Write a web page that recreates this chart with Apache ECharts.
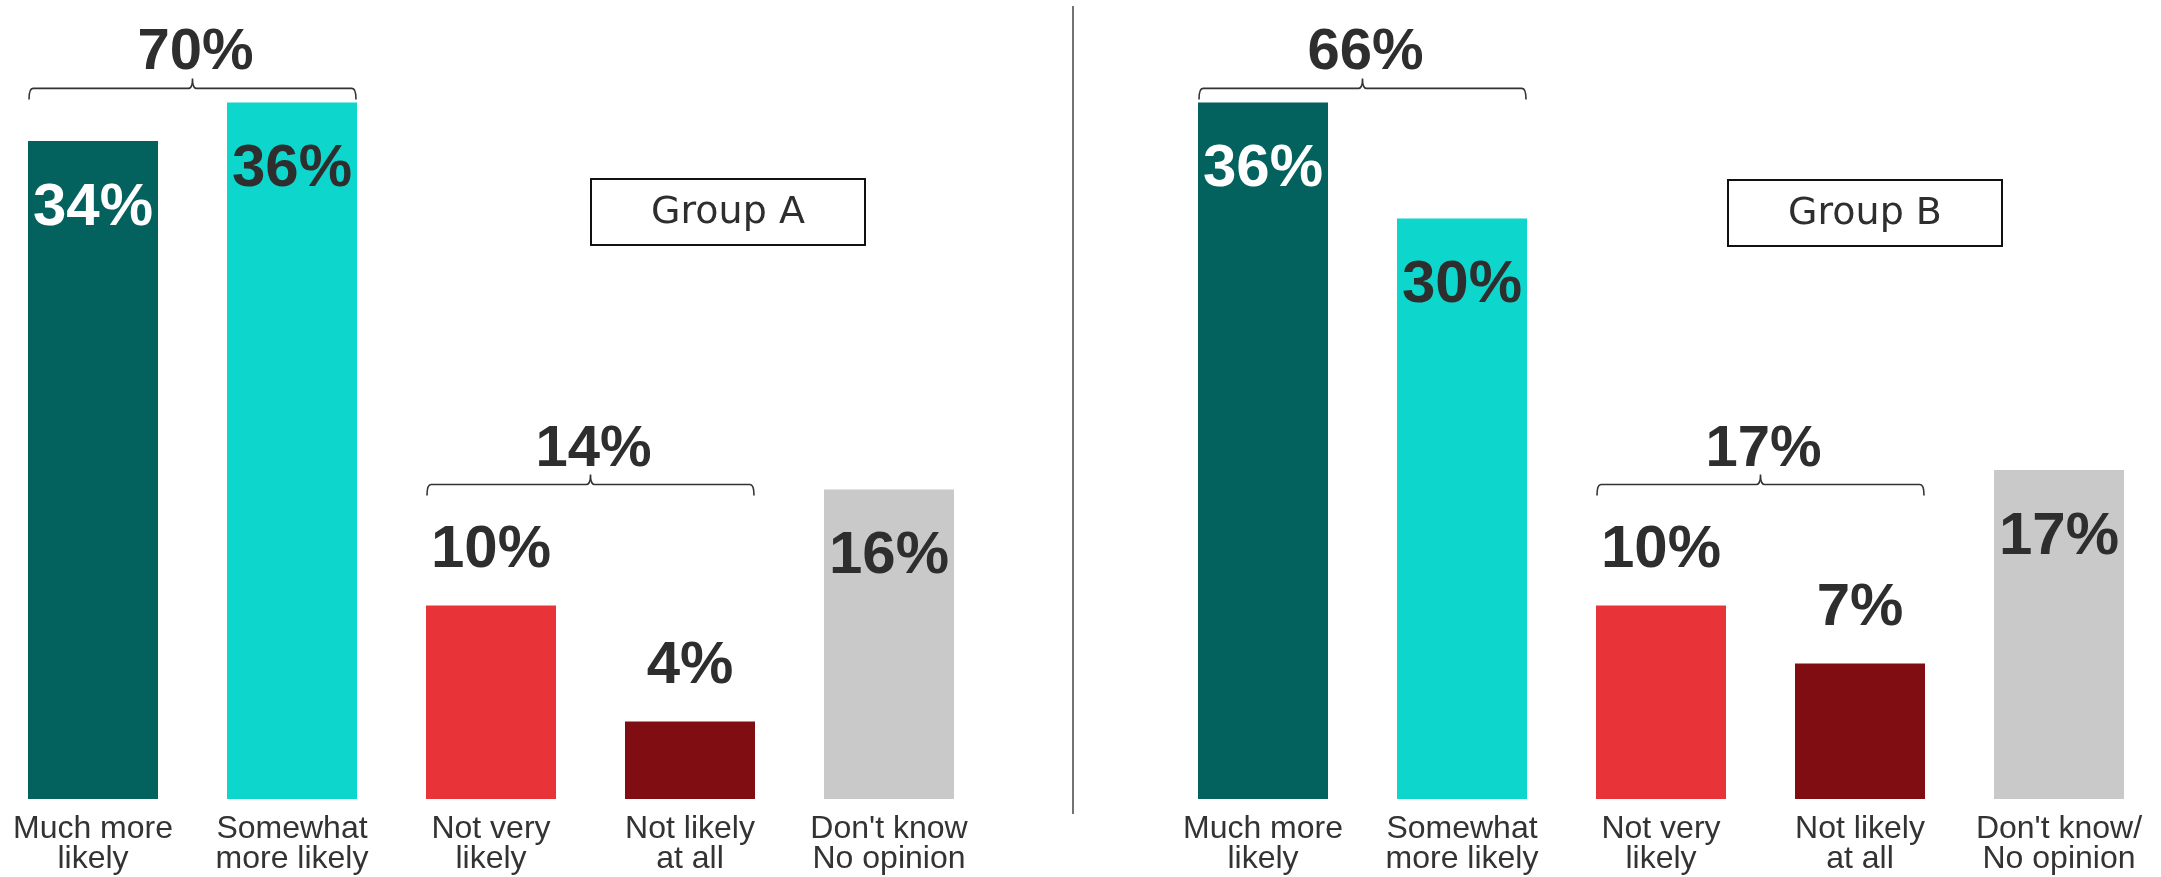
<!DOCTYPE html>
<html>
<head>
<meta charset="utf-8">
<script src="https://cdn.jsdelivr.net/npm/echarts@6/dist/echarts.min.js"></script>
<style>
  html, body { margin: 0; padding: 0; background: #ffffff; }
  #chart { width: 2161px; height: 877px; }
</style>
</head>
<body>
<div id="chart"></div>
<script>
// ---------- data ----------
const categoriesA = ['Much more\nlikely', 'Somewhat\nmore likely', 'Not very\nlikely', 'Not likely\nat all', "Don't know\nNo opinion"];
const categoriesB = ['Much more\nlikely', 'Somewhat\nmore likely', 'Not very\nlikely', 'Not likely\nat all', "Don't know/\nNo opinion"];
const valuesA = [34, 36, 10, 4, 16];
const valuesB = [36, 30, 10, 7, 17];
// brackets: [first category index, last category index, combined total]
const bracketsA = [[0, 1, 70], [2, 3, 14]];
const bracketsB = [[0, 1, 66], [2, 3, 17]];
const groupTitles = ['Group A', 'Group B'];

// ---------- style ----------
const FONT = '"Liberation Sans", Arial, Helvetica, sans-serif';
const TEXT = '#2e2e2e';
const barColors = ['#03615e', '#0dd6cc', '#e83338', '#800d12', '#c9c9c9'];
const labelColors = ['#ffffff', TEXT, TEXT, TEXT, TEXT];
const labelOutside = [false, false, true, true, false];
const BAR_W = 130;

function barSeries(values, idx) {
  return {
    type: 'bar',
    xAxisIndex: idx,
    yAxisIndex: idx,
    barWidth: BAR_W,
    clip: false,
    silent: true,
    data: values.map((v, i) => ({
      value: v,
      itemStyle: { color: barColors[i] },
      label: {
        show: true,
        position: labelOutside[i] ? 'top' : 'insideTop',
        distance: labelOutside[i] ? 25 : 37,
        formatter: '{c}%',
        color: labelColors[i],
        fontSize: 60,
        fontWeight: 'bold',
        fontFamily: FONT
      }
    }))
  };
}

function bracketSeries(brackets, values, idx) {
  return {
    type: 'custom',
    xAxisIndex: idx,
    yAxisIndex: idx,
    clip: false,
    silent: true,
    encode: { x: 0, y: 1 },
    data: brackets,
    renderItem: function (params, api) {
      const from = api.value(0), to = api.value(1), total = api.value(2);
      let maxV = 0, outside = false;
      for (let i = from; i <= to; i++) {
        if (values[i] > maxV) maxV = values[i];
        if (labelOutside[i]) outside = true;
      }
      const left = api.coord([from, 0])[0] - BAR_W / 2 + 1;
      const right = api.coord([to, 0])[0] + BAR_W / 2 - 1;
      const cx = (left + right) / 2;
      const topY = api.coord([from, maxV])[1];
      const y0 = topY - (outside ? 121 : 14);
      const r = 4;
      const path = 'M' + left + ' ' + (y0 + 11) +
        ' Q' + left + ' ' + y0 + ' ' + (left + r) + ' ' + y0 +
        ' L' + (cx - r) + ' ' + y0 +
        ' Q' + cx + ' ' + y0 + ' ' + cx + ' ' + (y0 - 10) +
        ' Q' + cx + ' ' + y0 + ' ' + (cx + r) + ' ' + y0 +
        ' L' + (right - r) + ' ' + y0 +
        ' Q' + right + ' ' + y0 + ' ' + right + ' ' + (y0 + 11);
      return {
        type: 'group',
        children: [
          {
            type: 'path',
            shape: { pathData: path },
            style: { fill: null, stroke: '#333333', lineWidth: 1.6 }
          },
          {
            type: 'text',
            style: {
              text: total + '%',
              x: cx + 3,
              y: y0 - 35,
              align: 'center',
              verticalAlign: 'middle',
              fontSize: 58,
              fontWeight: 'bold',
              fontFamily: FONT,
              fill: TEXT
            }
          }
        ]
      };
    }
  };
}

function xAxisFor(cats, idx) {
  return {
    type: 'category',
    gridIndex: idx,
    data: cats,
    boundaryGap: false,
    axisLine: { show: false },
    axisTick: { show: false },
    axisLabel: {
      interval: 0,
      margin: 15,
      fontSize: 32,
      lineHeight: 30,
      color: '#333333',
      fontFamily: FONT
    }
  };
}

function yAxisFor(idx) {
  return {
    type: 'value',
    gridIndex: idx,
    min: 0,
    max: 40,
    show: false,
    splitLine: { show: false }
  };
}

const chart = echarts.init(document.getElementById('chart'), null, { renderer: 'canvas' });
chart.setOption({
  backgroundColor: '#ffffff',
  animation: false,
  grid: [
    { left: 93, top: 25, width: 796, height: 774, containLabel: false, outerBoundsMode: 'none' },
    { left: 1263, top: 25, width: 796, height: 774, containLabel: false, outerBoundsMode: 'none' }
  ],
  xAxis: [xAxisFor(categoriesA, 0), xAxisFor(categoriesB, 1)],
  yAxis: [yAxisFor(0), yAxisFor(1)],
  series: [
    barSeries(valuesA, 0),
    barSeries(valuesB, 1),
    bracketSeries(bracketsA, valuesA, 0),
    bracketSeries(bracketsB, valuesB, 1)
  ],
  graphic: [
    {
      type: 'line',
      shape: { x1: 1073, y1: 6, x2: 1073, y2: 814 },
      style: { stroke: '#444444', lineWidth: 1.5 }
    },
    {
      type: 'group',
      left: 590, top: 178,
      children: [
        { type: 'rect', shape: { x: 0, y: 0, width: 274, height: 66 }, style: { fill: '#ffffff', stroke: '#111111', lineWidth: 2 } },
        { type: 'text', style: { text: groupTitles[0], x: 137, y: 34, align: 'center', verticalAlign: 'middle', fontSize: 38, fontFamily: '"DejaVu Sans", sans-serif', fill: TEXT } }
      ]
    },
    {
      type: 'group',
      left: 1727, top: 179,
      children: [
        { type: 'rect', shape: { x: 0, y: 0, width: 274, height: 66 }, style: { fill: '#ffffff', stroke: '#111111', lineWidth: 2 } },
        { type: 'text', style: { text: groupTitles[1], x: 137, y: 34, align: 'center', verticalAlign: 'middle', fontSize: 38, fontFamily: '"DejaVu Sans", sans-serif', fill: TEXT } }
      ]
    }
  ]
});
</script>
</body>
</html>
